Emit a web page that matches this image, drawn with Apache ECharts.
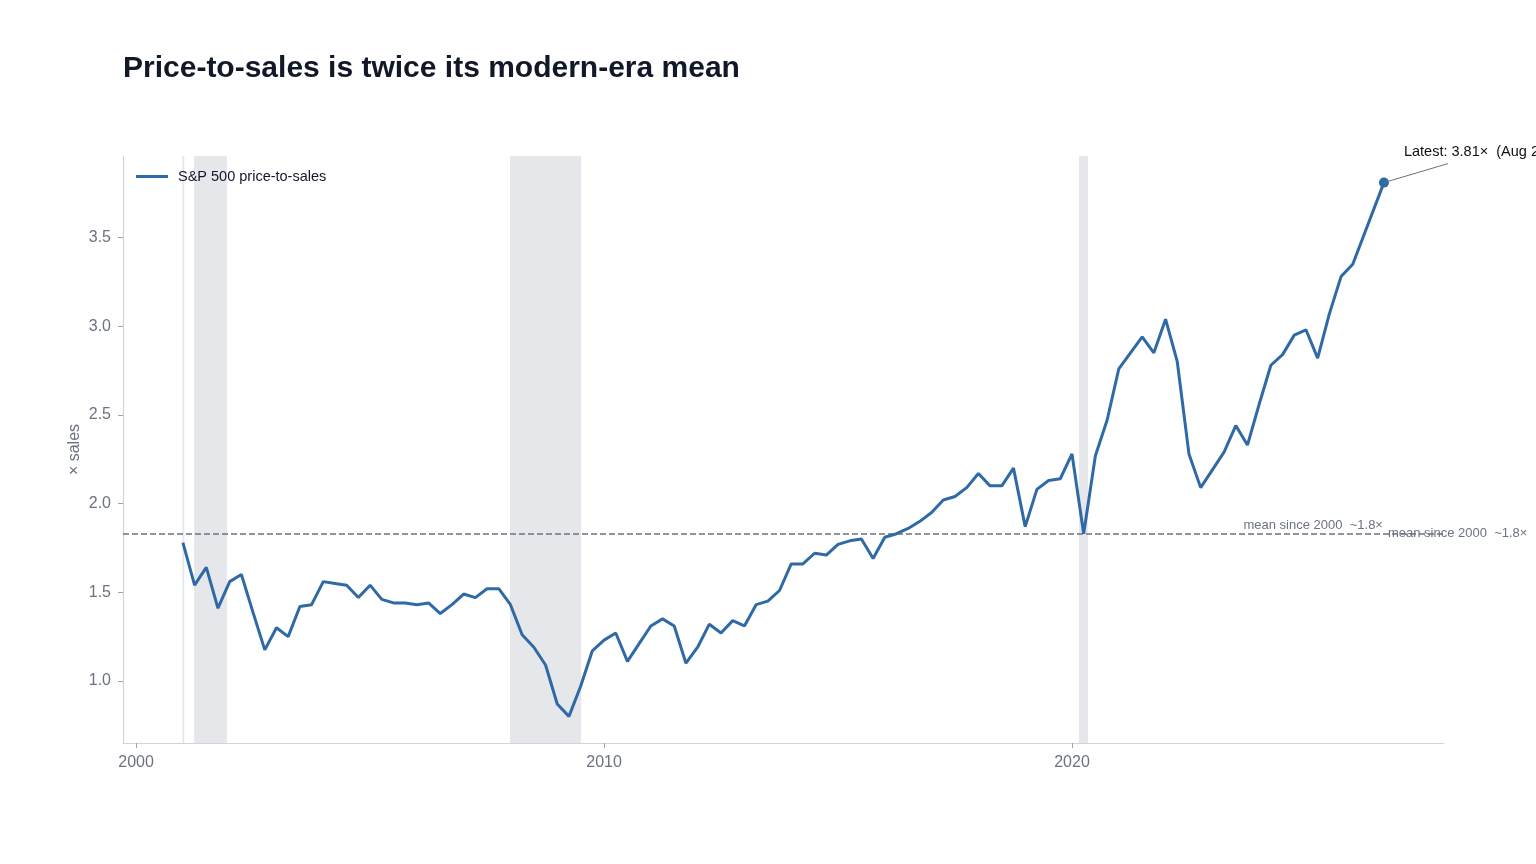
<!DOCTYPE html>
<html>
<head>
<meta charset="utf-8">
<title>Price-to-sales</title>
<script src="https://cdn.jsdelivr.net/npm/echarts@6/dist/echarts.min.js"></script>
<style>
  html, body { margin: 0; padding: 0; background: #fff; }
  #chart { width: 1536px; height: 864px; }
</style>
</head>
<body>
<div id="chart"></div>
<script>
// quarterly readings from Q1 2001, plus the latest monthly print
var firstYear = 2001;
var psValues = [
  1.78, 1.54, 1.64, 1.41, 1.56, 1.60, 1.385, 1.175, 1.30, 1.25,
  1.42, 1.43, 1.56, 1.55, 1.54, 1.47, 1.54, 1.46, 1.44, 1.44,
  1.43, 1.44, 1.38, 1.43, 1.49, 1.47, 1.52, 1.52, 1.43, 1.26,
  1.19, 1.09, 0.87, 0.80, 0.97, 1.17, 1.23, 1.27, 1.11, 1.21,
  1.31, 1.35, 1.31, 1.10, 1.19, 1.32, 1.27, 1.34, 1.31, 1.43,
  1.45, 1.51, 1.66, 1.66, 1.72, 1.71, 1.77, 1.79, 1.80, 1.69,
  1.81, 1.83, 1.86, 1.90, 1.95, 2.02, 2.04, 2.09, 2.17, 2.10,
  2.10, 2.20, 1.87, 2.08, 2.13, 2.14, 2.28, 1.83, 2.27, 2.47,
  2.76, 2.85, 2.94, 2.85, 3.04, 2.80, 2.28, 2.09, 2.19, 2.29,
  2.44, 2.33, 2.56, 2.78, 2.84, 2.95, 2.98, 2.82, 3.07, 3.28,
  3.35
];
var latestDate = 2026 + 8 / 12;
var latestValue = 3.81;
var latestText = 'Latest: 3.81×  (Aug 2026)';

var meanValue = 1.834;
var meanText = 'mean since 2000  ~1.8×';

// recession bands [start, end] in fractional years
var recessions = [
  [2000.99, 2001.03],
  [2001.24, 2001.94],
  [2007.99, 2009.51],
  [2020.15, 2020.34]
];

var xTicks = [2000, 2010, 2020];
var yTicks = [1.0, 1.5, 2.0, 2.5, 3.0, 3.5];

var seriesData = psValues.map(function (v, i) {
  return [firstYear + i / 4, v];
});
seriesData.push({
  value: [latestDate, latestValue],
  symbol: 'circle',
  symbolSize: 10,
  itemStyle: { color: '#2f6aa6' }
});
var lastDate = latestDate;
var startDate = firstYear;

var textGray = '#6b7280';
var axisGray = '#d1d5db';
var font = 'Liberation Sans, Arial, sans-serif';

var myChart = echarts.init(document.getElementById('chart'));
var option = {
  animation: false,
  backgroundColor: '#ffffff',
  title: {
    text: 'Price-to-sales is twice its modern-era mean',
    left: 118,
    top: 49,
    textStyle: {
      fontFamily: font,
      fontSize: 30,
      fontWeight: 'bold',
      color: '#111827'
    }
  },
  legend: {
    left: 131,
    top: 164,
    itemWidth: 32,
    itemHeight: 12,
    itemGap: 10,
    textStyle: {
      fontFamily: font,
      fontSize: 14.5,
      color: '#111827',
      padding: [0, 0, 0, 5]
    },
    data: [{ name: 'S&P 500 price-to-sales', icon: 'path://M0,5L32,5L32,8L0,8Z' }]
  },
  grid: { left: 123, right: 92, top: 156, bottom: 121 },
  xAxis: {
    type: 'value',
    min: 1999.72,
    max: 2027.95,
    splitLine: { show: false },
    axisLine: { lineStyle: { color: axisGray, width: 1.2 } },
    axisTick: { show: true, length: 5, customValues: xTicks, lineStyle: { color: '#9ca3af' } },
    axisLabel: {
      customValues: xTicks,
      color: textGray,
      fontSize: 16,
      margin: 12,
      fontFamily: font,
      formatter: function (v) { return String(v); }
    }
  },
  yAxis: {
    type: 'value',
    min: 0.65,
    max: 3.96,
    name: '× sales',
    nameLocation: 'middle',
    nameGap: 40,
    nameMoveOverlap: false,
    nameTextStyle: { color: textGray, fontSize: 16, fontFamily: font },
    splitLine: { show: false },
    axisLine: { show: true, lineStyle: { color: axisGray, width: 1.2 } },
    axisTick: { show: true, length: 5, customValues: yTicks, lineStyle: { color: '#9ca3af' } },
    axisLabel: {
      customValues: yTicks,
      color: textGray,
      fontSize: 16,
      margin: 12,
      fontFamily: font,
      formatter: function (v) { return v.toFixed(1); }
    }
  },
  series: [{
    name: 'S&P 500 price-to-sales',
    type: 'line',
    data: seriesData,
    showSymbol: true,
    symbol: 'none',
    lineStyle: { color: '#2f6aa6', width: 3 },
    itemStyle: { color: '#2f6aa6' },
    z: 5,
    markArea: {
      silent: true,
      itemStyle: { color: '#e5e7eb' },
      data: recessions.map(function (r) {
        return [{ xAxis: r[0] }, { xAxis: r[1] }];
      })
    },
    markLine: {
      silent: true,
      symbol: 'none',
      lineStyle: { color: '#6b7280', type: 'dashed', width: 1.5 },
      label: { color: textGray, fontSize: 13, fontFamily: font },
      data: [
        { yAxis: meanValue, label: { show: false } },
        [
          { coord: [startDate, meanValue], lineStyle: { color: 'rgba(0,0,0,0)' },
            label: { show: true, position: 'insideEndTop', formatter: meanText, distance: 1, color: textGray } },
          { coord: [lastDate, meanValue] }
        ],
        [
          { coord: [startDate, meanValue], lineStyle: { color: 'rgba(0,0,0,0)' },
            label: { show: true, position: 'end', formatter: meanText, distance: 4, color: textGray } },
          { coord: [lastDate, meanValue] }
        ]
      ]
    }
  }]
};
myChart.setOption(option);

// annotation for the latest reading, anchored on the last point
var p = myChart.convertToPixel({ seriesIndex: 0 }, [latestDate, latestValue]);
myChart.setOption({
  graphic: [
    {
      type: 'line',
      shape: { x1: p[0], y1: p[1], x2: p[0] + 64, y2: p[1] - 19 },
      style: { stroke: '#6b7280', lineWidth: 1 },
      z: 10
    },
    {
      type: 'text',
      x: p[0] + 20,
      y: p[1] - 31,
      style: {
        text: latestText,
        fill: '#111111',
        fontSize: 14.5,
        fontFamily: font,
        verticalAlign: 'middle'
      },
      z: 10
    }
  ]
});
</script>
</body>
</html>
